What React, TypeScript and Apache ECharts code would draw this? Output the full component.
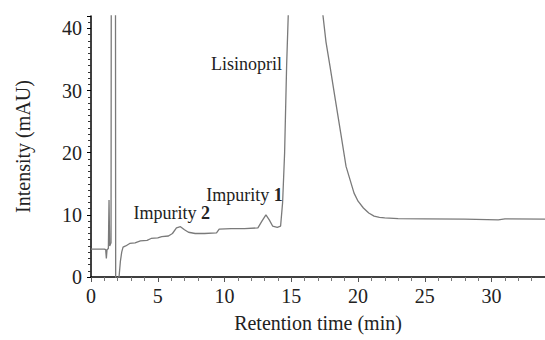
import React, { useEffect, useRef } from "react";
import * as echarts from "echarts";

// Retention time (min) and intensity (mAU)
const times = [
  0, 1.0, 1.1, 1.15, 1.2, 1.3, 1.35, 1.4, 1.5, 1.55, 1.6, 1.8, 1.85, 2.0, 2.1, 2.2, 2.3, 2.4, 2.6, 2.9,
  3.3, 3.7, 4.2, 4.5, 5.0, 5.3, 5.8, 6.1, 6.4, 6.7, 7.0, 7.3, 7.8, 8.5, 9.4, 9.6, 10.5, 11.5, 12.5, 12.8,
  13.1, 13.35, 13.6, 13.95, 14.2, 14.35, 14.5, 14.65, 14.8, 15.0, 16.0, 17.0, 17.35, 17.6, 17.9, 18.3,
  18.7, 19.1, 19.7, 20.0, 20.4, 20.8, 21.2, 21.6, 22.0, 23.0, 25.0, 28.0, 30.5, 31.0, 34.0,
];
const intensity = [
  4.5, 4.5, 4.4, 3.0, 4.4, 4.6, 12.4, 5.0, 5.5, 120, 150, 150, -5, -5, 0, 2.5, 4.0, 4.8, 5.0, 5.4,
  5.5, 5.8, 5.9, 6.2, 6.3, 6.5, 6.6, 7.0, 7.9, 8.1, 7.6, 7.2, 7.0, 7.0, 7.1, 7.7, 7.8, 7.8, 7.9, 9.0,
  10.0, 9.2, 8.2, 8.0, 8.2, 12, 20, 34, 44, 80, 150, 60, 42.5, 37.8, 33.9, 28.5,
  23.2, 17.8, 13.5, 12.2, 11.1, 10.3, 9.8, 9.6, 9.5, 9.4, 9.35, 9.3, 9.2, 9.35, 9.3,
];

const xTicks = { min: 0, max: 34, interval: 5 };
const yTicks = { min: 0, max: 42, interval: 10 };

const peakLabels = [
  { name: "Lisinopril", num: "", coord: [11.65, 34.2] },
  { name: "Impurity ", num: "1", coord: [11.5, 13.2] },
  { name: "Impurity ", num: "2", coord: [6.05, 10.3] },
];

const FONT = "Liberation Serif";

export default function App() {
  const ref = useRef<HTMLDivElement>(null);
  useEffect(() => {
    document.body.style.margin = "0";
    if (!ref.current) return;
    const chart = echarts.init(ref.current, undefined, { renderer: "svg" });
    const data = times.map((t, i) => [t, intensity[i]]);
    chart.setOption({
      animation: false,
      textStyle: { fontFamily: FONT },
      grid: { left: 91, right: 0, top: 16, bottom: 63, containLabel: false, outerBoundsMode: "none" },
      xAxis: {
        type: "value",
        min: xTicks.min,
        max: xTicks.max,
        interval: xTicks.interval,
        name: "Retention time (min)",
        nameLocation: "middle",
        nameGap: 36,
        nameTextStyle: { fontFamily: FONT, fontSize: 20, color: "#222" },
        axisLine: { show: true, onZero: false, lineStyle: { color: "#000", width: 1.5 } },
        axisTick: { show: true, length: 5, lineStyle: { color: "#555" } },
        minorTick: { show: true, splitNumber: 5, length: 4, lineStyle: { color: "#777" } },
        splitLine: { show: false },
        axisLabel: { fontFamily: FONT, fontSize: 20, color: "#222", margin: 9, showMaxLabel: false },
      },
      yAxis: {
        type: "value",
        min: yTicks.min,
        max: yTicks.max,
        interval: yTicks.interval,
        name: "Intensity (mAU)",
        nameLocation: "middle",
        nameGap: 58,
        nameTextStyle: { fontFamily: FONT, fontSize: 20, color: "#222" },
        axisLine: { show: true, lineStyle: { color: "#000", width: 1.5 } },
        axisTick: { show: true, length: 4, lineStyle: { color: "#000" } },
        minorTick: { show: true, splitNumber: 10, length: 3, lineStyle: { color: "#333" } },
        splitLine: { show: false },
        axisLabel: { fontFamily: FONT, fontSize: 20, color: "#222", margin: 9, showMaxLabel: false },
      },
      series: [
        {
          type: "line",
          data,
          showSymbol: false,
          symbol: "none",
          clip: true,
          lineStyle: { color: "#7a7a7a", width: 1.3 },
          markPoint: {
            symbol: "circle",
            symbolSize: 0,
            silent: true,
            data: peakLabels.map((p) => ({
              coord: p.coord,
              label: {
                show: true,
                position: "inside",
                formatter: p.num ? `{n|${p.name}}{b|${p.num}}` : `{n|${p.name}}`,
                rich: {
                  n: { fontFamily: FONT, fontSize: 18, color: "#222" },
                  b: { fontFamily: FONT, fontSize: 18, fontWeight: "bold", color: "#222" },
                },
              },
            })),
          },
        },
      ],
    });
    return () => chart.dispose();
  }, []);
  return <div ref={ref} style={{ width: 545, height: 340 }} />;
}
